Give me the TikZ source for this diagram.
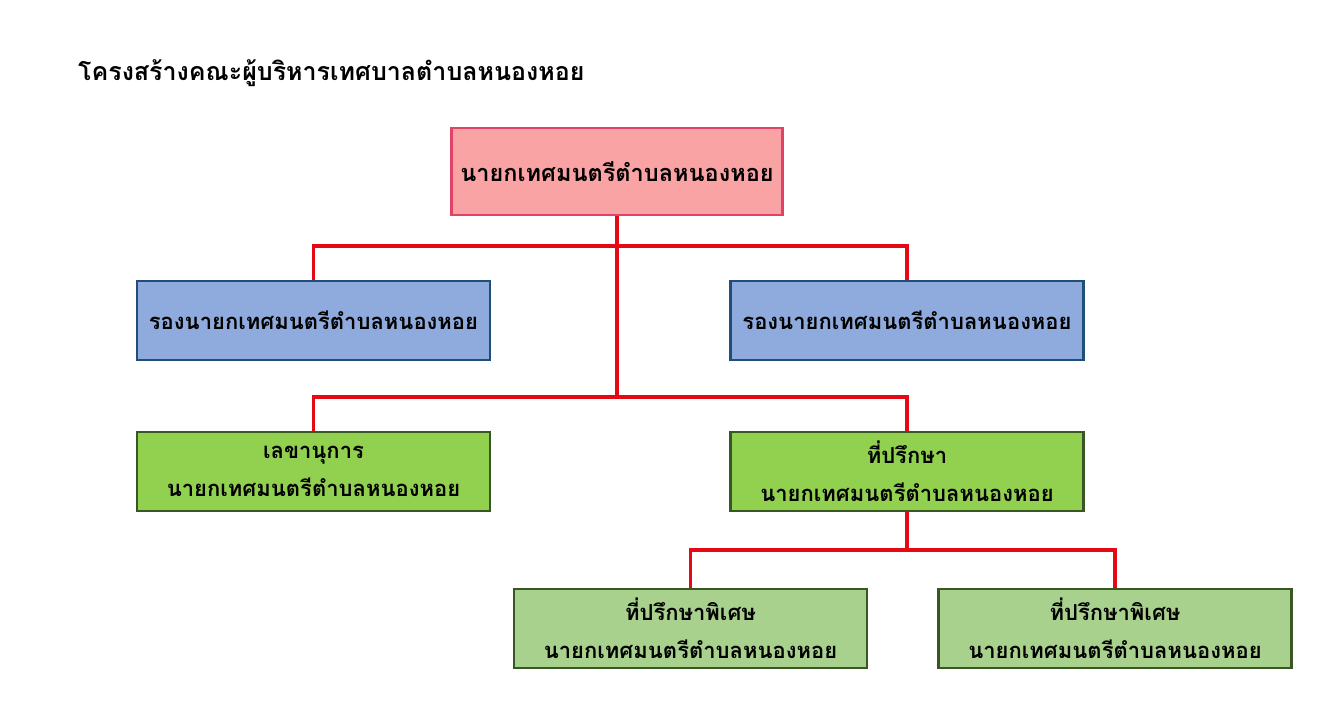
\documentclass[tikz,border=0pt]{standalone}
\usepackage{fontspec}
\newfontfamily\thaifont[Script=Thai]{Loma}
\definecolor{linered}{HTML}{E50914}
\definecolor{pinkfill}{HTML}{F9A3A4}
\definecolor{pinkdraw}{HTML}{E04366}
\definecolor{bluefill}{HTML}{8FAADC}
\definecolor{bluedraw}{HTML}{1F4E79}
\definecolor{greenfill}{HTML}{92D050}
\definecolor{greendraw}{HTML}{385723}
\definecolor{lgreenfill}{HTML}{A9D18E}
\tikzset{
  orgbox/.style={draw, line width=2.5pt, minimum height=79pt, align=center,
    font=\thaifont\bfseries\fontsize{22}{38}\selectfont, inner sep=0pt},
  topbox/.style={orgbox, fill=pinkfill, draw=pinkdraw, minimum width=331pt, minimum height=87pt,
    font=\thaifont\bfseries\fontsize{23.5}{38}\selectfont},
  bluebox/.style={orgbox, fill=bluefill, draw=bluedraw, minimum width=353pt},
  greenbox/.style={orgbox, fill=greenfill, draw=greendraw, minimum width=353pt},
  lgreenbox/.style={orgbox, fill=lgreenfill, draw=greendraw, minimum width=353pt},
  conn/.style={draw=linered, line width=3.5pt}
}
\begin{document}
\begin{tikzpicture}[x=1pt,y=-1pt]
\useasboundingbox[fill=white] (0,0) rectangle (1323,720);
\node[anchor=west, font=\thaifont\bfseries\fontsize{25}{28}\selectfont, inner sep=0pt] (title) at (78,73) {โครงสร้างคณะผู้บริหารเทศบาลตำบลหนองหอย};
\node[topbox] (top) at (617,171.5) {นายกเทศมนตรีตำบลหนองหอย};
\node[bluebox] (b1) at (313.5,320.5) {รองนายกเทศมนตรีตำบลหนองหอย};
\node[bluebox] (b2) at (907,320.5) {รองนายกเทศมนตรีตำบลหนองหอย};
\node[greenbox] (g1) at (313.5,471.5) {เลขานุการ\\นายกเทศมนตรีตำบลหนองหอย};
\node[greenbox] (g2) at (907,471.5) {ที่ปรึกษา\\นายกเทศมนตรีตำบลหนองหอย};
\node[lgreenbox] (l1) at (690.5,628.5) {ที่ปรึกษาพิเศษ\\นายกเทศมนตรีตำบลหนองหอย};
\node[lgreenbox] (l2) at (1115,628.5) {ที่ปรึกษาพิเศษ\\นายกเทศมนตรีตำบลหนองหอย};
\coordinate (j1) at (617,246);
\coordinate (j2) at (617,397);
\coordinate (j3) at (907,550);
\draw[conn] (top.south) -- (j2);
\draw[conn] (b1.north) |- (j1) -| (b2.north);
\draw[conn] (g1.north) |- (j2) -| (g2.north);
\draw[conn] (g2.south) -- (j3);
\draw[conn] (l1.north) |- (j3) -| (l2.north);
\end{tikzpicture}
\end{document}
